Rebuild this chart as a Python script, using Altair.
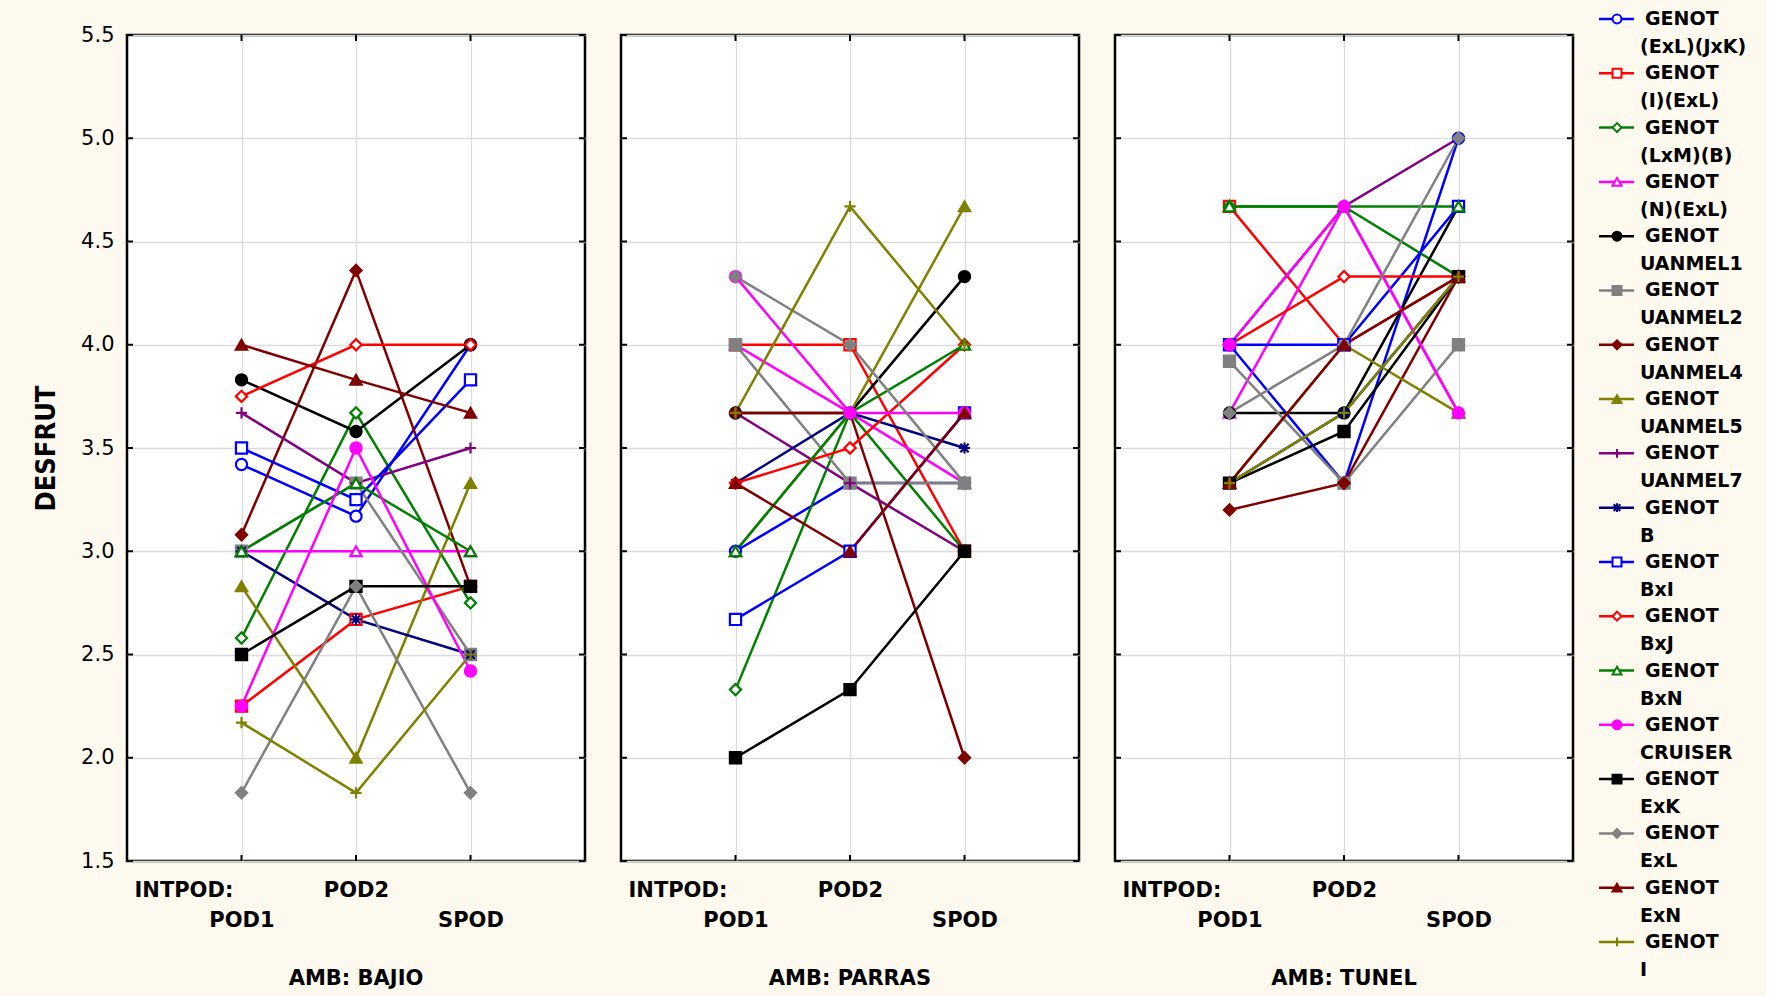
import altair as alt
import pandas as pd

# Factors of the interaction plot
amb_names = ["BAJIO", "PARRAS", "TUNEL"]
intpod = ["POD1", "POD2", "SPOD"]
genot = [
    "(ExL)(JxK)", "(I)(ExL)", "(LxM)(B)", "(N)(ExL)", "UANMEL1", "UANMEL2",
    "UANMEL4", "UANMEL5", "UANMEL7", "B", "BxI", "BxJ", "BxN", "CRUISER",
    "ExK", "ExL", "ExN", "I",
]

# Mean DESFRUT per genotype (rows, in genot order) at POD1, POD2, SPOD
desfrut_bajio = [
    [3.42, 3.17, 4.00], [2.25, 2.67, 2.83], [2.58, 3.67, 2.75], [3.00, 3.00, 3.00],
    [3.83, 3.58, 4.00], [3.00, 3.33, 2.50], [3.08, 4.36, 2.83], [2.83, 2.00, 3.33],
    [3.67, 3.33, 3.50], [3.00, 2.67, 2.50], [3.50, 3.25, 3.83], [3.75, 4.00, 4.00],
    [3.00, 3.33, 3.00], [2.25, 3.50, 2.42], [2.50, 2.83, 2.83], [1.83, 2.83, 1.83],
    [4.00, 3.83, 3.67], [2.17, 1.83, 2.50],
]
desfrut_parras = [
    [3.00, 3.33, 3.33], [4.00, 4.00, 3.00], [2.33, 3.67, 3.00], [4.00, 3.67, 3.33],
    [3.67, 3.67, 4.33], [4.00, 3.33, 3.33], [3.67, 3.67, 2.00], [3.00, 3.67, 4.67],
    [3.67, 3.33, 3.00], [3.33, 3.67, 3.50], [2.67, 3.00, 3.67], [3.33, 3.50, 4.00],
    [3.00, 3.67, 4.00], [4.33, 3.67, 3.67], [2.00, 2.33, 3.00], [4.33, 4.00, 3.33],
    [3.33, 3.00, 3.67], [3.67, 4.67, 4.00],
]
desfrut_tunel = [
    [4.00, 3.33, 5.00], [4.67, 4.00, 4.33], [4.67, 4.67, 4.33], [3.67, 4.67, 3.67],
    [3.67, 3.67, 4.67], [3.92, 3.33, 4.00], [3.20, 3.33, 4.33], [3.33, 4.00, 3.67],
    [4.00, 4.67, 5.00], [3.33, 3.67, 4.33], [4.00, 4.00, 4.67], [4.00, 4.33, 4.33],
    [4.67, 4.67, 4.67], [4.00, 4.67, 3.67], [3.33, 3.58, 4.33], [3.67, 4.00, 5.00],
    [3.33, 4.00, 4.33], [3.33, 3.67, 4.33],
]

y_ticks = [1.5, 2.0, 2.5, 3.0, 3.5, 4.0, 4.5, 5.0, 5.5]

# Series styling
line_colors = [
    "#0000FF", "#FF0000", "#008000", "#FF00FF", "#000000", "#808080",
    "#800000", "#808000", "#800080", "#000080", "#0000FF", "#FF0000",
    "#008000", "#FF00FF", "#000000", "#808080", "#800000", "#808000",
]
PLUS = "M-1,0L1,0M0,-1L0,1"
STAR = "M-1,0L1,0M0,-1L0,1M-0.75,-0.75L0.75,0.75M-0.75,0.75L0.75,-0.75"
marker_shapes = [
    "circle", "square", "diamond", "triangle-up", "circle", "square",
    "diamond", "triangle-up", PLUS, STAR, "square", "diamond",
    "triangle-up", "circle", "square", "diamond", "triangle-up", PLUS,
]
marker_fills = [
    "white", "white", "white", "white", "#000000", "#808080",
    "#800000", "#808000", "white", "white", "white", "white",
    "white", "#FF00FF", "#000000", "#808080", "#800000", "white",
]

rows = []
for amb, table in zip(amb_names, [desfrut_bajio, desfrut_parras, desfrut_tunel]):
    for gi, (g, vals) in enumerate(zip(genot, table)):
        for k, (pod, v) in enumerate(zip(intpod, vals)):
            rows.append({"amb": amb, "genot": g, "gi": gi, "intpod": pod, "k": k, "desfrut": v})
df = pd.DataFrame(rows)

W, H = 458, 826
FONT = "DejaVu Sans"
TITLE_FONT = "Liberation Sans Narrow, DejaVu Sans Condensed, Liberation Sans"

stroke_scale = alt.Scale(domain=genot, range=line_colors)
shape_scale = alt.Scale(domain=genot, range=marker_shapes)
fill_scale = alt.Scale(domain=genot, range=marker_fills)


def panel(amb, first):
    sub = df[df["amb"] == amb]
    x_axis = alt.Axis(
        title="INTPOD:", titleX=7, titleY=29, titleAlign="left", titleBaseline="middle",
        titleFont=FONT, titleFontSize=21, titleFontWeight="bold", titleColor="black",
        labelExpr="datum.label == 'POD2' ? ['POD2', ''] : ['', datum.label]",
        labelAngle=0, labelBaseline="top", labelPadding=18, labelLineHeight=30,
        labelFont=FONT, labelFontSize=21, labelFontWeight="bold", labelColor="black",
        labelOverlap=False,
    )
    if first:
        y_axis = alt.Axis(
            values=y_ticks, format=".1f", title="DESFRUT", titleX=-81, titleY=H / 2,
            titleAngle=270, titleAlign="center", titleBaseline="middle",
            titleFont=TITLE_FONT, titleFontSize=27, titleFontWeight="bold", titleColor="black",
            labelFont=FONT, labelFontSize=21, labelPadding=13, labelColor="black",
        )
    else:
        y_axis = alt.Axis(values=y_ticks, labels=False, title=None)

    x = alt.X("intpod:N", sort=intpod, scale=alt.Scale(type="point", padding=1), axis=x_axis)
    y = alt.Y("desfrut:Q", scale=alt.Scale(domain=[1.5, 5.5], nice=False, zero=False), axis=y_axis)
    stroke = alt.Stroke("genot:N", scale=stroke_scale, legend=None)

    base = alt.Chart(sub)
    lines = base.mark_line(strokeWidth=2.5).encode(x=x, y=y, stroke=stroke, order="k:Q")
    points = base.mark_point(size=125, strokeWidth=2.2, opacity=1, fillOpacity=1).encode(
        x=x, y=y, stroke=stroke,
        shape=alt.Shape("genot:N", scale=shape_scale, legend=None),
        fill=alt.Fill("genot:N", scale=fill_scale, legend=None),
    )

    # inward tick marks on the frame
    tick_df = pd.DataFrame({"desfrut": y_ticks})
    pod_df = pd.DataFrame({"intpod": intpod})
    tick_style = dict(color="black", strokeWidth=2)
    left_ticks = alt.Chart(tick_df).mark_rule(**tick_style).encode(
        y="desfrut:Q", x=alt.value(0), x2=alt.value(6))
    right_ticks = alt.Chart(tick_df).mark_rule(**tick_style).encode(
        y="desfrut:Q", x=alt.value(W - 6), x2=alt.value(W))
    bottom_ticks = alt.Chart(pod_df).mark_rule(**tick_style).encode(
        x=alt.X("intpod:N", sort=intpod), y=alt.value(H - 6), y2=alt.value(H))
    top_ticks = alt.Chart(pod_df).mark_rule(**tick_style).encode(
        x=alt.X("intpod:N", sort=intpod), y=alt.value(0), y2=alt.value(6))

    return alt.layer(lines, left_ticks, right_ticks, bottom_ticks, top_ticks, points).properties(
        width=W, height=H,
        title=alt.TitleParams(
            f"AMB: {amb}", orient="bottom", anchor="middle", font=FONT, fontSize=21,
            fontWeight="bold", color="black", offset=38, baseline="top",
        ),
    )


# Legend: one entry per genotype, two text lines each
leg_df = pd.DataFrame({"genot": genot, "idx": list(range(len(genot))), "head": ["GENOT"] * len(genot)})
leg_y = alt.Y("idx:Q", scale=alt.Scale(domain=[0, len(genot) - 1], range=[-16, 907]), axis=None)
leg_base = alt.Chart(leg_df)
leg_line = leg_base.mark_rule(strokeWidth=2.5).encode(
    y=leg_y, x=alt.value(-10), x2=alt.value(25),
    stroke=alt.Stroke("genot:N", scale=stroke_scale, legend=None))
leg_pt = leg_base.mark_point(size=80, strokeWidth=2, opacity=1, fillOpacity=1).encode(
    y=leg_y, x=alt.value(8),
    stroke=alt.Stroke("genot:N", scale=stroke_scale, legend=None),
    shape=alt.Shape("genot:N", scale=shape_scale, legend=None),
    fill=alt.Fill("genot:N", scale=fill_scale, legend=None))
text_style = dict(align="left", baseline="middle", font=FONT, fontSize=19, fontWeight="bold", color="black")
leg_t1 = leg_base.mark_text(**text_style).encode(y=leg_y, x=alt.value(36), text="head:N")
leg_t2 = leg_base.mark_text(dy=28, **text_style).encode(y=leg_y, x=alt.value(31), text="genot:N")
legend = alt.layer(leg_line, leg_pt, leg_t1, leg_t2).properties(
    width=150, height=H,
    view=alt.ViewBackground(stroke="transparent", fill="transparent"),
)

chart = (
    alt.hconcat(
        panel("BAJIO", True), panel("PARRAS", False), panel("TUNEL", False), legend,
        spacing=36, bounds="flush",
    )
    .resolve_scale(x="independent", y="independent")
    .properties(background="#FDF9EE", padding={"left": 30, "top": 8, "right": 5, "bottom": 5})
    .configure_view(stroke="black", strokeWidth=2.5, fill="white")
    .configure_axis(grid=True, gridColor="#DCDCDC", gridWidth=1.3, domain=False, ticks=False)
)

chart.save("out.html", embed_options={"renderer": "svg", "actions": False})
